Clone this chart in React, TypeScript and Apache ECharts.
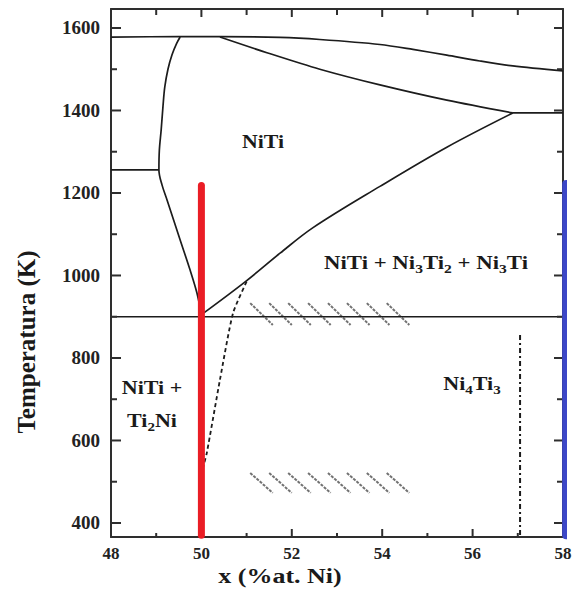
import React, { useEffect, useRef } from "react";
import * as echarts from "echarts";

const FONT = '"Liberation Serif", "Times New Roman", serif';

// axis ranges and ticks
const X_MIN = 48;
const X_MAX = 58;
const Y_MIN = 366;
const Y_MAX = 1646;
const xMajorTicks = [48, 50, 52, 54, 56, 58];
const xMinorTicks = [49, 51, 53, 55, 57];
const yMajorTicks = [400, 600, 800, 1000, 1200, 1400, 1600];
const yMinorTicks = [500, 700, 900, 1100, 1300, 1500];

// phase boundaries (x in %at. Ni, T in K)
const liquidusX = [48, 49.5, 50.41, 51.74, 52.62, 53.95, 54.68, 55.43, 56.16, 56.89, 58];
const liquidusT = [1578, 1579, 1579, 1577, 1572, 1560, 1548, 1534, 1520, 1508, 1496];

const solidusX = [50.41, 51.45, 52.62, 53.95, 55.43, 56.89];
const solidusT = [1578, 1540, 1500, 1462, 1425, 1394];

const peritecticX = [56.89, 58];
const peritecticT = [1394, 1394];

const boundaryX = [50.0, 50.96, 51.74, 52.47, 53.95, 55.43, 56.89];
const boundaryT = [905, 984, 1054, 1116, 1216, 1311, 1394];

const solvusX = [49.53, 49.45, 49.35, 49.26, 49.19, 49.15, 49.11, 49.07, 49.06, 49.13, 49.24, 49.53, 49.75, 49.9, 50.0];
const solvusT = [1578, 1562, 1535, 1500, 1457, 1410, 1353, 1304, 1256, 1219, 1183, 1086, 1013, 958, 905];

const eutecticX = [48, 49.06];
const eutecticT = [1256, 1256];

const eutectoidX = [48, 58];
const eutectoidT = [900, 900];

const dashedX = [51.0, 50.7, 50.41, 50.12, 50.04];
const dashedT = [985, 909, 747, 570, 536];

const ni4ti3X = [57.05, 57.05];
const ni4ti3T = [856, 366];

// hatched bands
const hatchStartX = [51.08, 51.5, 51.92, 52.36, 52.8, 53.22, 53.66, 54.1];
const hatchEndX = [51.58, 52.0, 52.42, 52.86, 53.3, 53.72, 54.16, 54.6];
const hatchBand1 = [933, 880];
const hatchBand2 = [521, 473];

// highlighted compositions
const redX = [50, 50];
const redT = [1218, 370];
const blueX = [58.07, 58.07];
const blueT = [1222, 370];

const pairs = (xs: number[], ts: number[]) => xs.map((x, i) => [x, ts[i]]);

const LINE = "#1c1c1c";
const AXIS = "#2e2e2e";
const TICK = "#2e2e2e";

function lineSeries(xs: number[], ts: number[], extra: any = {}) {
  return {
    type: "line",
    data: pairs(xs, ts),
    symbol: "none",
    showSymbol: false,
    lineStyle: { color: LINE, width: 1.7, ...(extra.lineStyle || {}) },
    smooth: extra.smooth ?? false,
    clip: extra.clip ?? true,
    silent: true,
    z: extra.z ?? 3,
  };
}

function hatchData() {
  const out: any[] = [];
  [hatchBand1, hatchBand2].forEach((band) => {
    hatchStartX.forEach((x0, i) => {
      out.push({ coords: [[x0, band[0]], [hatchEndX[i], band[1]]] });
    });
  });
  return out;
}

// tick marks: [x, y, length(px), side] side: 0 bottom, 1 top, 2 left, 3 right
function tickData() {
  const out: number[][] = [];
  xMajorTicks.forEach((v) => { out.push([v, Y_MIN, 8, 0]); out.push([v, Y_MAX, 8, 1]); });
  xMinorTicks.forEach((v) => { out.push([v, Y_MIN, 4, 0]); out.push([v, Y_MAX, 6, 1]); });
  yMajorTicks.forEach((v) => { out.push([X_MIN, v, 10, 2]); out.push([X_MAX, v, 9, 3]); });
  yMinorTicks.forEach((v) => { out.push([X_MIN, v, 6, 2]); out.push([X_MAX, v, 6, 3]); });
  return out;
}

function renderTick(_params: any, api: any) {
  const p = api.coord([api.value(0), api.value(1)]);
  const len = api.value(2);
  const side = api.value(3);
  let q: number[];
  if (side === 0) q = [p[0], p[1] - len];
  else if (side === 1) q = [p[0], p[1] + len];
  else if (side === 2) q = [p[0] + len, p[1]];
  else q = [p[0] - len, p[1]];
  return {
    type: "line",
    shape: { x1: p[0], y1: p[1], x2: q[0], y2: q[1] },
    style: { stroke: TICK, lineWidth: 2 },
  };
}

const sub = { fontSize: 13, fontWeight: "bold", fontFamily: FONT, fill: "#1a1a1a", padding: [10, 0, 0, 0] };
const big = { fontSize: 19, fontWeight: "bold", fontFamily: FONT, fill: "#1a1a1a" };

function label(text: string, x: number, y: number, scaleX = 1.18) {
  return {
    type: "text",
    x,
    y,
    scaleX,
    silent: true,
    z: 10,
    style: {
      text,
      align: "center",
      verticalAlign: "middle",
      rich: { b: big, s: sub },
    },
  };
}

const labelStyle = { fontFamily: FONT, fontWeight: "bold", color: "#222" };

export default function App() {
  const ref = useRef<HTMLDivElement>(null);

  useEffect(() => {
    if (!ref.current) return;
    const chart = echarts.init(ref.current, undefined, { renderer: "svg" });

    const option: any = {
      animation: false,
      backgroundColor: "#ffffff",
      grid: { left: 111, right: 11, top: 9, bottom: 52, outerBoundsMode: "none" },
      xAxis: [
        {
          type: "value",
          min: X_MIN,
          max: X_MAX,
          position: "bottom",
          axisLine: { show: true, onZero: false, lineStyle: { color: AXIS, width: 2 } },
          axisTick: { show: false },
          axisLabel: { ...labelStyle, fontSize: 17, margin: 8, customValues: xMajorTicks, formatter: (v: number) => String(v) },
          splitLine: { show: false },
        },
        {
          type: "value",
          min: X_MIN,
          max: X_MAX,
          position: "top",
          axisLine: { show: true, onZero: false, lineStyle: { color: AXIS, width: 2 } },
          axisTick: { show: false },
          axisLabel: { show: false },
          splitLine: { show: false },
        },
      ],
      yAxis: [
        {
          type: "value",
          min: Y_MIN,
          max: Y_MAX,
          position: "left",
          axisLine: { show: true, onZero: false, lineStyle: { color: AXIS, width: 2 } },
          axisTick: { show: false },
          axisLabel: { ...labelStyle, fontSize: 19, margin: 11, customValues: yMajorTicks, formatter: (v: number) => String(v) },
          splitLine: { show: false },
        },
        {
          type: "value",
          min: Y_MIN,
          max: Y_MAX,
          position: "right",
          axisLine: { show: true, onZero: false, lineStyle: { color: AXIS, width: 2 } },
          axisTick: { show: false },
          axisLabel: { show: false },
          splitLine: { show: false },
        },
      ],
      series: [
        lineSeries(liquidusX, liquidusT, { smooth: 0.3 }),
        lineSeries(solidusX, solidusT, { smooth: 0.3 }),
        lineSeries(peritecticX, peritecticT),
        lineSeries(boundaryX, boundaryT, { smooth: 0.35 }),
        lineSeries(solvusX, solvusT, { smooth: 0.35 }),
        lineSeries(eutecticX, eutecticT),
        lineSeries(eutectoidX, eutectoidT),
        lineSeries(dashedX, dashedT, { lineStyle: { type: [4, 3], width: 1.8 }, smooth: 0.2 }),
        lineSeries(ni4ti3X, ni4ti3T, { lineStyle: { type: [5, 3, 2, 3], width: 2 } }),
        {
          type: "lines",
          coordinateSystem: "cartesian2d",
          data: hatchData(),
          silent: true,
          lineStyle: { color: "#727272", width: 2, type: [3, 1.2], opacity: 1 },
          z: 3,
        },
        {
          type: "custom",
          coordinateSystem: "cartesian2d",
          xAxisIndex: 0,
          yAxisIndex: 0,
          data: tickData(),
          encode: { x: 0, y: 1 },
          renderItem: renderTick,
          clip: false,
          z: 5,
        },
        lineSeries(redX, redT, { lineStyle: { color: "#ea1d25", width: 7, cap: "round" }, clip: false, z: 6 }),
        lineSeries(blueX, blueT, { lineStyle: { color: "#3c47c8", width: 8, cap: "round" }, clip: false, z: 6 }),
      ],
      graphic: [
        label("{b|NiTi}", 263, 142, 1.15),
        label("{b|NiTi + Ni}{s|3}{b|Ti}{s|2}{b| + Ni}{s|3}{b|Ti}", 426, 263, 1.2),
        label("{b|NiTi +}", 152, 388, 1.16),
        label("{b|Ti}{s|2}{b|Ni}", 152, 421, 1.16),
        label("{b|Ni}{s|4}{b|Ti}{s|3}", 472, 384, 1.16),
        {
          type: "text",
          x: 280,
          y: 576,
          scaleX: 1.3,
          silent: true,
          style: {
            text: "x (%at. Ni)",
            align: "center",
            verticalAlign: "middle",
            fontSize: 20,
            fontWeight: "bold",
            fontFamily: FONT,
            fill: "#1a1a1a",
          },
        },
        {
          type: "text",
          x: 26,
          y: 342,
          rotation: Math.PI / 2,
          silent: true,
          style: {
            text: "Temperatura (K)",
            align: "center",
            verticalAlign: "middle",
            fontSize: 25,
            fontWeight: "bold",
            fontFamily: FONT,
            fill: "#1a1a1a",
          },
        },
      ],
    };

    chart.setOption(option);
    return () => chart.dispose();
  }, []);

  return (
    <div
      ref={ref}
      style={{ position: "fixed", left: 0, top: 0, width: 574, height: 589, background: "#fff" }}
    />
  );
}
